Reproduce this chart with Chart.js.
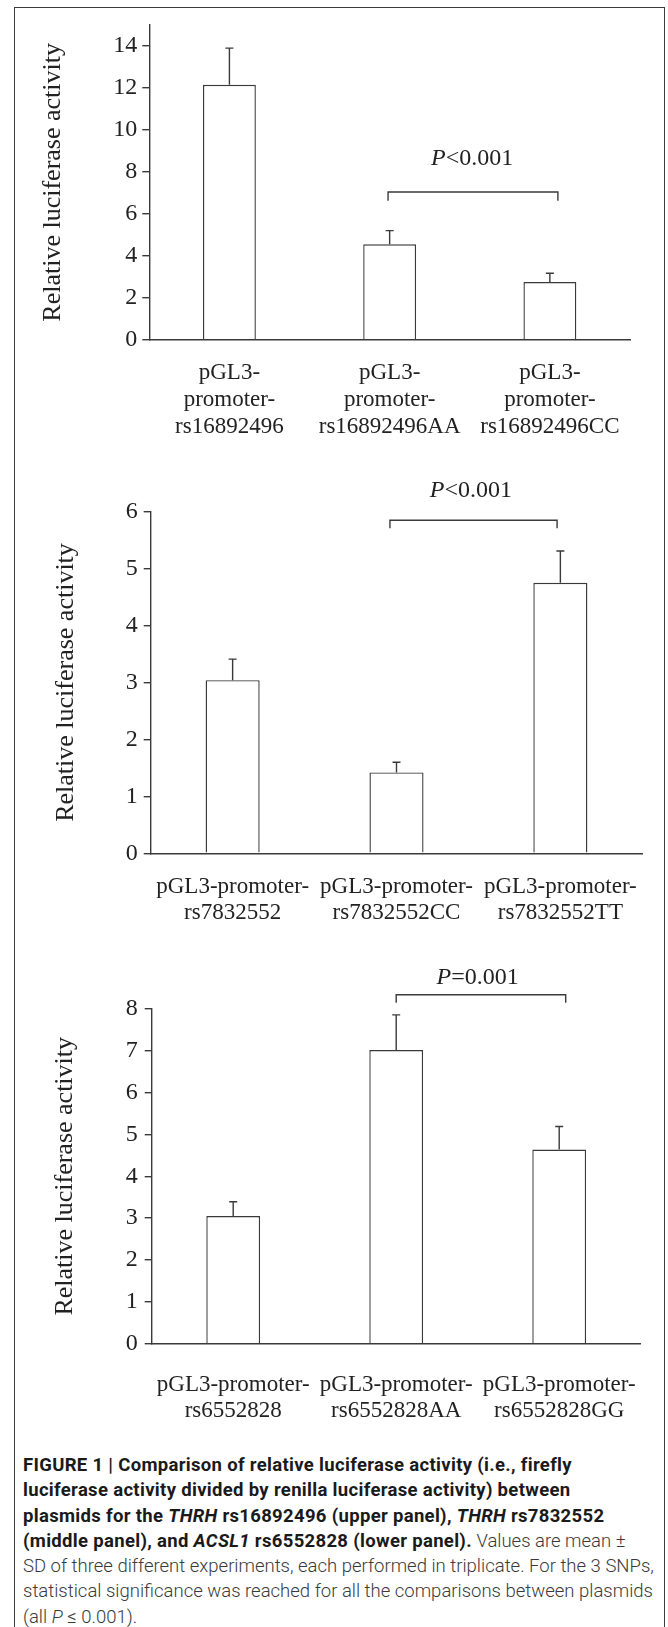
<!DOCTYPE html>
<html><head><meta charset="utf-8">
<script src="https://cdn.jsdelivr.net/npm/chart.js@4.4.1/dist/chart.umd.min.js"></script>
<style>
html,body{margin:0;padding:0;background:#fff;}
body{width:668px;height:1627px;position:relative;overflow:hidden;}
#frame{position:absolute;left:14px;top:7px;width:651px;height:1660px;border:1.5px solid #3c3c3c;border-bottom:none;box-sizing:border-box;}
canvas{position:absolute;left:0;}
#caption{position:absolute;left:23px;top:1453px;font-family:Roboto,'Liberation Sans',Arial,sans-serif;font-size:18.5px;line-height:25.3px;color:#3a3a3a;font-weight:300;white-space:nowrap;}
#caption b{font-weight:700;color:#1a1a1a;letter-spacing:0.32px;}
</style></head><body>
<div id="frame"></div>
<canvas id="c1" width="668" height="470" style="top:0px"></canvas>
<canvas id="c2" width="668" height="480" style="top:460px"></canvas>
<canvas id="c3" width="668" height="500" style="top:940px"></canvas>
<div id="caption"><b>FIGURE 1 | Comparison of relative luciferase activity (i.e., firefly</b><br><b>luciferase activity divided by renilla luciferase activity) between</b><br><b>plasmids for the <i>THRH</i> rs16892496 (upper panel), <i>THRH</i> rs7832552</b><br><b>(middle panel), and <i>ACSL1</i> rs6552828 (lower panel).</b> Values are mean ±<br>SD of three different experiments, each performed in triplicate. For the 3 SNPs,<br>statistical significance was reached for all the comparisons between plasmids<br>(all <i>P</i> ≤ 0.001).</div>
<script>
// ---- data ----
const categories1 = [["pGL3-","promoter-","rs16892496"],["pGL3-","promoter-","rs16892496AA"],["pGL3-","promoter-","rs16892496CC"]];
const values1 = [12.15, 4.55, 2.75];
const errors1 = [1.75, 0.65, 0.42];
const yMax1 = 15, yStep1 = 2;

const categories2 = [["pGL3-promoter-","rs7832552"],["pGL3-promoter-","rs7832552CC"],["pGL3-promoter-","rs7832552TT"]];
const values2 = [3.04, 1.42, 4.75];
const errors2 = [0.37, 0.18, 0.56];
const yMax2 = 6, yStep2 = 1;

const categories3 = [["pGL3-promoter-","rs6552828"],["pGL3-promoter-","rs6552828AA"],["pGL3-promoter-","rs6552828GG"]];
const values3 = [3.05, 7.02, 4.64];
const errors3 = [0.34, 0.84, 0.55];
const yMax3 = 8, yStep3 = 1;

const axisTitle = 'Relative luciferase activity';
const pTexts = ['<0.001', '<0.001', '=0.001'];

// significance brackets (category index / value units)
const bracket1 = {from: 0.99, to: 2.05, y: 7.04, drop: 6.62, labelX: 1.515, labelY: 8.63, text: pTexts[0]};
const bracket2 = {from: 0.96, to: 1.98, y: 5.85, drop: 5.71, labelX: 1.454, labelY: 6.37, text: pTexts[1]};
const bracket3 = {from: 1.0, to: 2.04, y: 8.34, drop: 8.15, labelX: 1.5, labelY: 8.75, text: pTexts[2]};

// ---- styling ----
const FONT = "'Liberation Serif','Times New Roman',serif";
const INK = '#3a3a3a';
const TXT = '#222';

const errorBarPlugin = {
  id: 'errorBars',
  afterDatasetsDraw(chart) {
    const ctx = chart.ctx, y = chart.scales.y;
    const ds = chart.data.datasets[0];
    const meta = chart.getDatasetMeta(0);
    ctx.save();
    ctx.strokeStyle = INK; ctx.lineWidth = 1.4;
    meta.data.forEach((bar, i) => {
      const yTop = y.getPixelForValue(ds.data[i] + ds.errors[i]);
      const x = bar.x;
      ctx.beginPath();
      ctx.moveTo(x, bar.y); ctx.lineTo(x, yTop);
      ctx.moveTo(x - 4, yTop); ctx.lineTo(x + 4, yTop);
      ctx.stroke();
    });
    ctx.restore();
  }
};

const bracketPlugin = {
  id: 'bracket',
  afterDraw(chart, args, o) {
    if (!o || o.from === undefined) return;
    const ctx = chart.ctx, x = chart.scales.x, y = chart.scales.y;
    const x1 = x.getPixelForValue(o.from), x2 = x.getPixelForValue(o.to);
    const yt = y.getPixelForValue(o.y), yd = y.getPixelForValue(o.drop);
    ctx.save();
    ctx.strokeStyle = INK; ctx.lineWidth = 1.4;
    ctx.beginPath();
    ctx.moveTo(x1, yd); ctx.lineTo(x1, yt); ctx.lineTo(x2, yt); ctx.lineTo(x2, yd);
    ctx.stroke();
    const cx = x.getPixelForValue(o.labelX), cy = y.getPixelForValue(o.labelY);
    const fi = 'italic 24px ' + FONT, fr = '24px ' + FONT;
    ctx.fillStyle = TXT; ctx.textBaseline = 'middle'; ctx.textAlign = 'left';
    ctx.font = fi; const w1 = ctx.measureText('P').width;
    ctx.font = fr; const w2 = ctx.measureText(o.text).width;
    const sx = cx - (w1 + w2) / 2;
    ctx.font = fi; ctx.fillText('P', sx, cy);
    ctx.font = fr; ctx.fillText(o.text, sx + w1, cy);
    ctx.restore();
  }
};

function makeChart(id, cats, vals, errs, yMax, yStep, L, br) {
  return new Chart(document.getElementById(id), {
    type: 'bar',
    data: {labels: cats, datasets: [{data: vals, errors: errs, backgroundColor: '#fff', borderColor: INK, borderWidth: 1.4, barPercentage: 0.33, categoryPercentage: 1}]},
    options: {
      responsive: false, animation: false, devicePixelRatio: 1,
      layout: {padding: {top: L.top, right: 668 - L.right, left: 0, bottom: 0}},
      plugins: {legend: {display: false}, tooltip: {enabled: false}, bracket: br},
      scales: {
        x: {
          grid: {display: false, drawTicks: false},
          border: {display: true, color: INK, width: 1.4},
          ticks: {color: TXT, font: {family: FONT, size: 23, lineHeight: L.lh + 'px'}, padding: L.xPad, maxRotation: 0, autoSkip: false},
          afterFit(s) { s.height = L.height - L.bottom; s.paddingLeft = 0; s.paddingRight = 0; }
        },
        y: {
          min: 0, max: yMax, bounds: 'data',
          grid: {display: true, drawOnChartArea: false, drawTicks: true, tickLength: 7, color: INK, lineWidth: 1.4},
          border: {display: true, color: INK, width: 1.4},
          ticks: {stepSize: yStep, includeBounds: false, color: TXT, font: {family: FONT, size: 24}, padding: L.yPad},
          title: {display: true, text: axisTitle, color: TXT, font: {family: FONT, size: 26}, padding: {top: L.titlePad, bottom: 0}},
          afterBuildTicks(s) { s.ticks = s.ticks.filter(t => Math.abs(t.value / yStep - Math.round(t.value / yStep)) < 1e-6); },
          afterFit(s) { s.width = L.left; }
        }
      }
    },
    plugins: [errorBarPlugin, bracketPlugin]
  });
}

makeChart('c1', categories1, values1, errors1, yMax1, yStep1,
  {top: 25, bottom: 339.7, left: 149.3, right: 630, height: 470, lh: 27, xPad: 20, yPad: 5, titlePad: 37.7}, bracket1);
makeChart('c2', categories2, values2, errors2, yMax2, yStep2,
  {top: 51.7, bottom: 393.3, left: 150.7, right: 642.3, height: 480, lh: 26.5, xPad: 20, yPad: 6, titlePad: 51}, bracket2);
makeChart('c3', categories3, values3, errors3, yMax3, yStep3,
  {top: 69, bottom: 403.6, left: 151.7, right: 640.7, height: 500, lh: 26.5, xPad: 28, yPad: 7, titlePad: 50}, bracket3);
</script>
</body></html>
